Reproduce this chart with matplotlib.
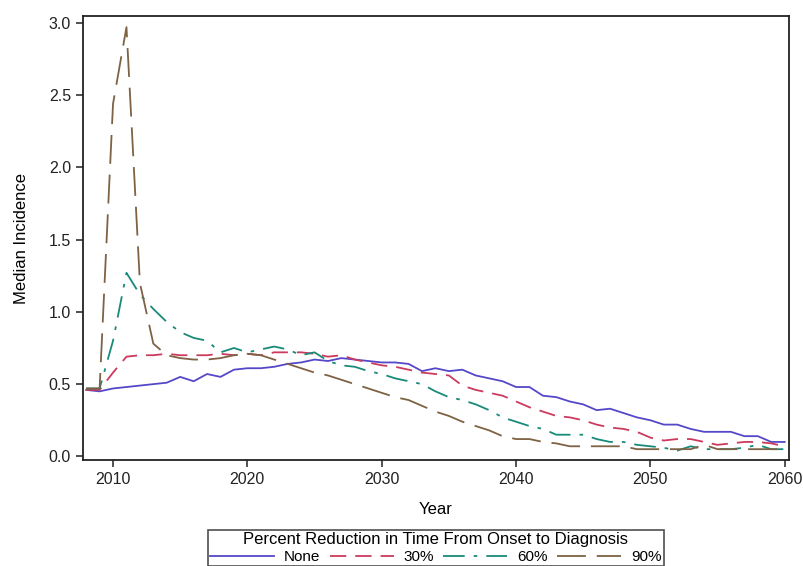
import matplotlib
matplotlib.use("Agg")
import matplotlib.pyplot as plt
import numpy as np

plt.rcParams['font.family'] = ['Liberation Sans', 'DejaVu Sans']

years = list(range(2008, 2061))

none_vals = [0.46, 0.45, 0.47, 0.48, 0.49, 0.50, 0.51, 0.55, 0.52, 0.57,
             0.55, 0.60, 0.61, 0.61, 0.62, 0.64, 0.65, 0.67, 0.66, 0.68,
             0.67, 0.66, 0.65, 0.65, 0.64, 0.59, 0.61, 0.59, 0.60, 0.56,
             0.54, 0.52, 0.48, 0.48, 0.42, 0.41, 0.38, 0.36, 0.32, 0.33,
             0.30, 0.27, 0.25, 0.22, 0.22, 0.19, 0.17, 0.17, 0.17, 0.14,
             0.14, 0.10, 0.10]

red30 = [0.46, 0.46, 0.58, 0.69, 0.70, 0.70, 0.71, 0.70, 0.70, 0.70,
         0.71, 0.70, 0.71, 0.70, 0.72, 0.72, 0.72, 0.71, 0.69, 0.70,
         0.67, 0.65, 0.63, 0.62, 0.60, 0.58, 0.57, 0.56, 0.49, 0.46,
         0.44, 0.42, 0.38, 0.34, 0.31, 0.28, 0.27, 0.25, 0.22, 0.20,
         0.19, 0.17, 0.13, 0.11, 0.12, 0.12, 0.10, 0.08, 0.09, 0.10,
         0.10, 0.09, 0.07]

red60 = [0.47, 0.47, 0.80, 1.27, 1.12, 1.02, 0.93, 0.86, 0.82, 0.80,
         0.72, 0.75, 0.72, 0.74, 0.76, 0.74, 0.70, 0.72, 0.66, 0.63,
         0.62, 0.59, 0.57, 0.54, 0.52, 0.50, 0.45, 0.41, 0.39, 0.36,
         0.32, 0.27, 0.24, 0.21, 0.19, 0.15, 0.15, 0.15, 0.12, 0.10,
         0.10, 0.08, 0.07, 0.06, 0.04, 0.07, 0.05, 0.05, 0.05, 0.06,
         0.08, 0.05, 0.05]

red90 = [0.47, 0.47, 2.44, 2.97, 1.20, 0.78, 0.70, 0.68, 0.67, 0.67,
         0.68, 0.70, 0.71, 0.70, 0.67, 0.64, 0.61, 0.58, 0.56, 0.53,
         0.50, 0.47, 0.44, 0.41, 0.39, 0.35, 0.31, 0.28, 0.24, 0.21,
         0.18, 0.14, 0.12, 0.12, 0.10, 0.09, 0.07, 0.07, 0.07, 0.07,
         0.07, 0.05, 0.05, 0.05, 0.05, 0.05, 0.08, 0.05, 0.05, 0.05,
         0.05, 0.05, 0.05]

labels = ['None', '30%', '60%', '90%']

fig = plt.figure(figsize=(8.04, 5.66), dpi=100)
ax = fig.add_axes([0.103, 0.187, 0.878, 0.785])

ax.plot(years, none_vals, color='#5548c8', lw=1.3, linestyle='-', label=labels[0])
ax.plot(years, red30, color='#cc3a5e', lw=1.3, linestyle=(0, (9, 5)), label=labels[1])
ax.plot(years, red60, color='#1a8a78', lw=1.3, linestyle=(0, (12, 5, 2, 5)), label=labels[2])
ax.plot(years, red90, color='#7e6244', lw=1.3, linestyle=(0, (16, 6)), label=labels[3])

ax.set_xlim(2007.75, 2060.3)
ax.set_ylim(-0.026, 3.048)
ax.set_xticks([2010, 2020, 2030, 2040, 2050, 2060])
ax.set_yticks([0.0, 0.5, 1.0, 1.5, 2.0, 2.5, 3.0])
ax.set_yticklabels(['0.0', '0.5', '1.0', '1.5', '2.0', '2.5', '3.0'])
ax.tick_params(direction='out', length=5, width=1.1, labelsize=11.5, colors='#222222')
for s in ax.spines.values():
    s.set_linewidth(1.3)
    s.set_color('#222222')

ax.set_xlabel('Year', fontsize=12, labelpad=11)
ax.set_ylabel('Median Incidence', fontsize=12, labelpad=14)

leg = fig.legend(loc='upper center', bbox_to_anchor=(0.542, 0.064), ncol=4,
                 title='Percent Reduction in Time From Onset to Diagnosis',
                 fontsize=11, title_fontsize=12, frameon=True, fancybox=False,
                 edgecolor='#222222', handlelength=4.2, columnspacing=0.6,
                 handletextpad=0.65, borderpad=0.15, borderaxespad=0,
                 labelspacing=0.2)
leg.get_frame().set_linewidth(1.2)

fig.savefig('out.png', dpi=100)
